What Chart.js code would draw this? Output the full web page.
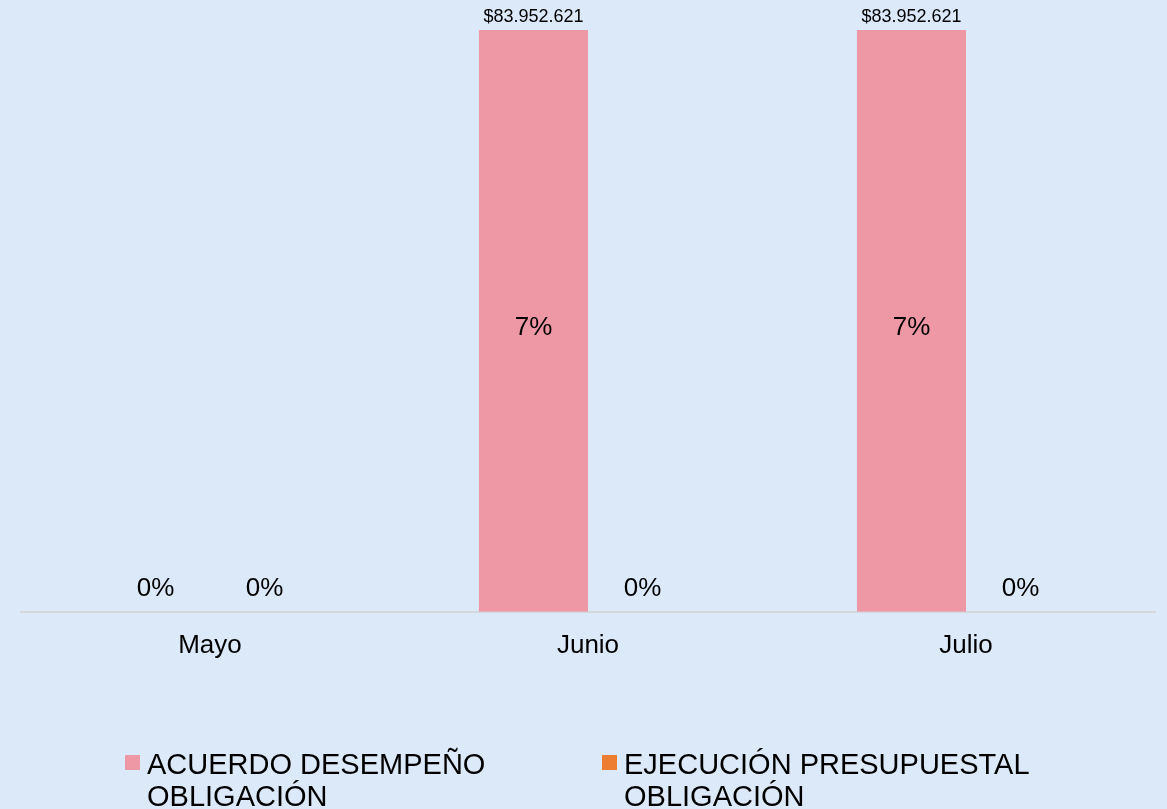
<!DOCTYPE html>
<html>
<head>
<meta charset="utf-8">
<script src="https://cdn.jsdelivr.net/npm/chart.js@4"></script>
<style>
html,body{margin:0;padding:0;background:#DCE9F9;}
#wrap{width:1167px;height:809px;position:relative;}
</style>
</head>
<body>
<div id="wrap"><canvas id="c" width="1167" height="809"></canvas></div>
<script>
const categories = ['Mayo', 'Junio', 'Julio'];
const seriesNames = [['ACUERDO DESEMPEÑO', 'OBLIGACIÓN'], ['EJECUCIÓN PRESUPUESTAL', 'OBLIGACIÓN']];
const acuerdoValues = [0, 83952621, 83952621];
const ejecucionValues = [0, 0, 0];
const acuerdoPct = [0, 7, 7];
const ejecucionPct = [0, 0, 0];
const seriesColors = ['#EE98A5', '#ED7D31'];

const FONT = '"Liberation Sans", Arial, sans-serif';

function money(v) {
  return '$' + v.toString().replace(/\B(?=(\d{3})+(?!\d))/g, '.');
}

const labelPlugin = {
  id: 'labels',
  afterDatasetsDraw(chart) {
    const ctx = chart.ctx;
    const pcts = [acuerdoPct, ejecucionPct];
    ctx.save();
    ctx.fillStyle = '#000';
    ctx.textAlign = 'center';
    ctx.textBaseline = 'alphabetic';
    chart.data.datasets.forEach((ds, di) => {
      const meta = chart.getDatasetMeta(di);
      meta.data.forEach((bar, i) => {
        const v = ds.data[i];
        ctx.font = '26px ' + FONT;
        if (v > 0) {
          ctx.fillText(pcts[di][i] + '%', bar.x, (bar.y + bar.base) / 2 + 14);
          ctx.font = '18px ' + FONT;
          ctx.fillText(money(v), bar.x, bar.y - 8);
        } else {
          ctx.fillText(pcts[di][i] + '%', bar.x, bar.base - 16);
        }
      });
    });
    ctx.restore();
  }
};

const legendPlugin = {
  id: 'customLegend',
  afterDraw(chart) {
    const ctx = chart.ctx;
    const xs = [125, 602];
    ctx.save();
    ctx.font = '29px ' + FONT;
    ctx.textBaseline = 'alphabetic';
    ctx.textAlign = 'left';
    chart.data.datasets.forEach((ds, di) => {
      const x = xs[di];
      ctx.fillStyle = ds.backgroundColor;
      ctx.fillRect(x, 755, 15, 15);
      ctx.fillStyle = '#000';
      seriesNames[di].forEach((ln, li) => {
        ctx.fillText(ln, x + 22, 774 + li * 32);
      });
    });
    ctx.restore();
  }
};

new Chart(document.getElementById('c'), {
  type: 'bar',
  data: {
    labels: categories,
    datasets: [
      { label: seriesNames[0].join(' '), data: acuerdoValues, backgroundColor: seriesColors[0] },
      { label: seriesNames[1].join(' '), data: ejecucionValues, backgroundColor: seriesColors[1] }
    ]
  },
  options: {
    responsive: false,
    animation: false,
    layout: { padding: { left: 21, right: 12, top: 30, bottom: 130 } },
    datasets: { bar: { categoryPercentage: 0.577, barPercentage: 1.0 } },
    plugins: { legend: { display: false }, tooltip: { enabled: false } },
    scales: {
      x: {
        grid: { display: false, drawTicks: false },
        border: { display: true, color: '#D5D8DC', width: 2 },
        ticks: { color: '#000', padding: 18, font: { size: 26, family: FONT } }
      },
      y: {
        display: false,
        min: 0,
        max: 83952621
      }
    }
  },
  plugins: [labelPlugin, legendPlugin]
});
</script>
</body>
</html>
